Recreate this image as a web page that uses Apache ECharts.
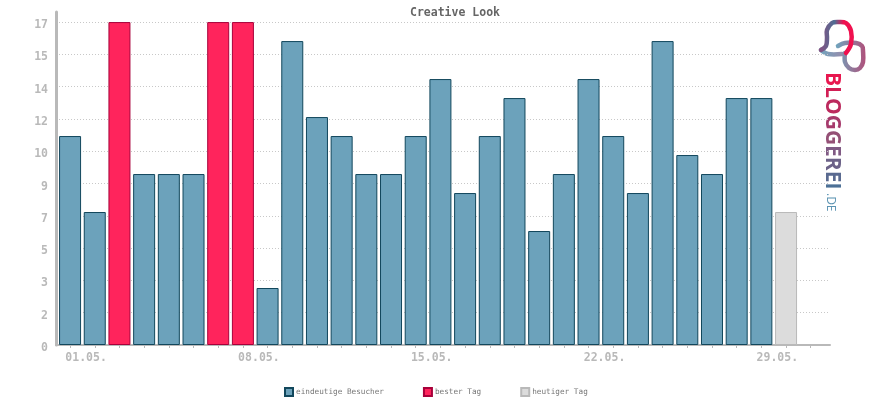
<!DOCTYPE html>
<html><head><meta charset="utf-8">
<style>html,body{margin:0;padding:0;background:#fff}#c{width:870px;height:400px}</style>
<script src="https://cdn.jsdelivr.net/npm/echarts@6/dist/echarts.min.js"></script>
</head><body><div id="c"></div>
<script>
const titleText = 'Creative Look';
const days = [1,2,3,4,5,6,7,8,9,10,11,12,13,14,15,16,17,18,19,20,21,22,23,24,25,26,27,28,29,30];
const visitors = [11,7,null,9,9,9,null,null,3,16,12,11,9,9,11,14,8,11,13,6,9,14,11,8,16,10,9,13,13,null];
const bestDay = [null,null,17,null,null,null,17,17,null,null,null,null,null,null,null,null,null,null,null,null,null,null,null,null,null,null,null,null,null,null];
const today = [null,null,null,null,null,null,null,null,null,null,null,null,null,null,null,null,null,null,null,null,null,null,null,null,null,null,null,null,null,7];
const xTicks = [1,2,3,4,5,6,7,8,9,10,11,12,13,14,15,16,17,18,19,20,21,22,23,24,25,26,27,28,29,30,31];
const xLabelDays = [1,8,15,22,29];
const xLabels = ['01.05.','08.05.','15.05.','22.05.','29.05.'];
const yTicks = [0,1.7,3.4,5.1,6.8,8.5,10.2,11.9,13.6,15.3,17];
const yLabels = ['0','2','3','5','7','9','10','12','14','15','17'];
const names = ['eindeutige Besucher','bester Tag','heutiger Tag'];
const logoLetters = ['B','L','O','G','G','E','R','E','I'];
const logoColors = ['#e8174f','#d21f55','#bc2a5e','#a63a6c','#945076','#805a84','#6c6288','#5a6a90','#4c7096'];

const grey = '#b9b9b9';
const mono = '"DejaVu Sans Mono", monospace';
const pts = a => a.map((v,i)=>[days[i],v]);
const bar = (name,data,fill,edge)=>({
  name,type:'bar',data:pts(data),barWidth:22,barGap:'-100%',
  itemStyle:{color:fill,borderColor:edge,borderWidth:1},
  emphasis:{disabled:true},animation:false
});
const lg = (stops,x,y,x2,y2)=>new echarts.graphic.LinearGradient(x,y,x2,y2,stops);
const rich = {};
logoLetters.forEach((l,i)=>{rich['l'+i]={fill:logoColors[i],color:logoColors[i],fontFamily:'"Open Sans"',fontSize:21,fontWeight:'bold'};});
const logoLine = (points,grad)=>({type:'polyline',shape:{points,smooth:0.35},style:{fill:null,stroke:grad,lineWidth:4.5,lineCap:'round'}});
const chart = echarts.init(document.getElementById('c'),null,{renderer:'canvas'});
chart.setOption({
  animation:false,
  title:{text:titleText,left:455,top:7,padding:0,textAlign:'center',
    textStyle:{fontFamily:mono,fontSize:11.5,fontWeight:'bold',color:'#666'}},
  grid:{left:56,right:40,top:12,bottom:55,containLabel:false},
  legend:{left:284,top:387,padding:0,itemWidth:8,itemHeight:8,itemGap:39,icon:'rect',
    data:names,selectedMode:false,
    textStyle:{fontFamily:mono,fontSize:7.7,color:'#777',padding:[0,0,0,-2]}},
  xAxis:{type:'value',min:0.43,max:31.78,
    axisLine:{show:true,onZero:false,lineStyle:{color:grey,width:2}},
    axisTick:{show:true,length:3,inside:false,customValues:xTicks,lineStyle:{color:grey,width:1}},
    axisLabel:{customValues:xLabelDays,margin:7,padding:[0,0,0,32],
      fontFamily:mono,fontSize:11.5,fontWeight:'bold',color:grey,
      formatter:v=>xLabels[xLabelDays.indexOf(v)]},
    splitLine:{show:false}},
  yAxis:{type:'value',min:0,max:17.53,
    axisLine:{show:true,lineStyle:{color:grey,width:3}},
    axisTick:{show:false,customValues:yTicks},
    axisLabel:{customValues:yTicks,margin:8,verticalAlign:'top',lineHeight:6,fontFamily:mono,fontSize:11.5,fontWeight:'bold',color:grey,
      formatter:v=>yLabels[yTicks.indexOf(v)]},
    splitLine:{show:true,lineStyle:{color:'#c8c8c8',type:[1,2],width:1}}},
  series:[bar(names[0],visitors,'#6ca2bb','#12475c'),
          bar(names[1],bestDay,'#ff245c','#a8003a'),
          bar(names[2],today,'#dcdcdc',grey)],
  graphic:[
    logoLine([[821,50],[828,54],[842,54]],lg([{offset:0,color:'#6ea6bf'},{offset:1,color:'#9a8aaa'}],0,0,1,0)),
    logoLine([[838,46],[845,43],[856,43],[862,46],[863,51],[863,62],[860,68],[855,70],[849,68],[845,62],[845,53]],
      lg([{offset:0,color:'#6ea6bf'},{offset:1,color:'#b0507a'}],0,0,1,0)),
    logoLine([[821,50],[826,46],[827,38],[827,30],[832,23],[838,22],[846,23],[851,31],[851,44],[846,53]],
      lg([{offset:0,color:'#8a4f80'},{offset:.45,color:'#4f6d94'},{offset:.7,color:'#f0104f'},{offset:1,color:'#f0104f'}],0,0,1,0)),
    {type:'text',rotation:-Math.PI/2,x:821,y:72,style:{
      text:logoLetters.map((l,i)=>'{l'+i+'|'+l+'}').join(''),rich,
      fontFamily:'"Open Sans"',fontSize:21,fontWeight:'bold',textAlign:'left',textVerticalAlign:'bottom'}},
    {type:'text',rotation:-Math.PI/2,x:824,y:193,style:{text:'.DE',fontFamily:'"Open Sans"',fontSize:12,fill:'#5b93b2',textAlign:'left',textVerticalAlign:'bottom'}}
  ]
});
</script></body></html>
